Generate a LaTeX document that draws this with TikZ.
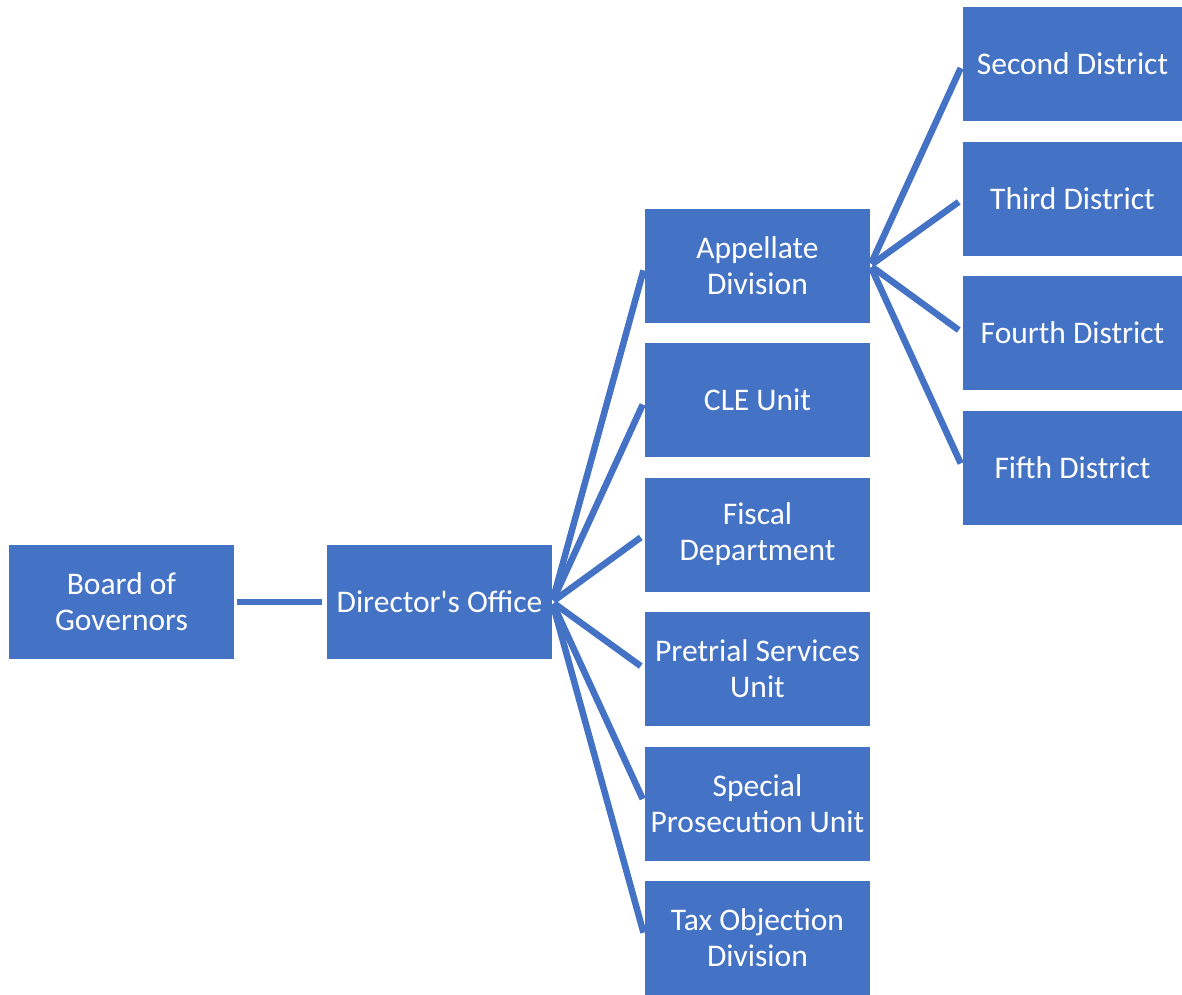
\documentclass[tikz,border=0pt]{standalone}
\usepackage{fontspec}
\setmainfont{Carlito}
\definecolor{boxblue}{HTML}{4472C4}
\tikzset{
  orgbox/.style={rectangle, fill=boxblue, text=white, minimum width=225pt, minimum height=114pt, inner sep=0pt, align=center, font=\fontsize{31.5}{36}\selectfont},
  distbox/.style={orgbox, minimum width=219pt},
  link/.style={draw=boxblue, line width=6.5pt}
}
\begin{document}
\begin{tikzpicture}[x=1pt,y=-1pt]
\useasboundingbox (0,0) rectangle (1182,994);
\node[orgbox] (board) at (121.5,602) {Board of\\Governors};
\node[orgbox] (dir) at (439.5,602) {Director\textquotesingle s Office};
\node[orgbox] (app) at (757.5,265.5) {Appellate\\Division};
\node[orgbox] (cle) at (757.5,400) {CLE Unit};
\node[orgbox] (fisc) at (757.5,534.5) {Fiscal\\Department};
\node[orgbox] (pre) at (757.5,669) {Pretrial Services\\Unit};
\node[orgbox] (spec) at (757.5,803.5) {Special\\Prosecution Unit};
\node[orgbox] (tax) at (757.5,937.5) {Tax Objection\\Division};
\node[distbox] (second) at (1072.5,63.5) {Second District};
\node[distbox] (third) at (1072.5,199) {Third District};
\node[distbox] (fourth) at (1072.5,333) {Fourth District};
\node[distbox] (fifth) at (1072.5,468) {Fifth District};
\draw[link, shorten <=3pt, shorten >=5pt] (board.east) -- (dir.west);
\foreach \t in {app,cle,fisc,pre,spec,tax}
  \draw[link, shorten <=2pt, shorten >=5pt] (dir.east) -- (\t.west);
\foreach \t in {second,third,fourth,fifth}
  \draw[link, shorten <=2pt, shorten >=5pt] (app.east) -- (\t.west);
\end{tikzpicture}
\end{document}
